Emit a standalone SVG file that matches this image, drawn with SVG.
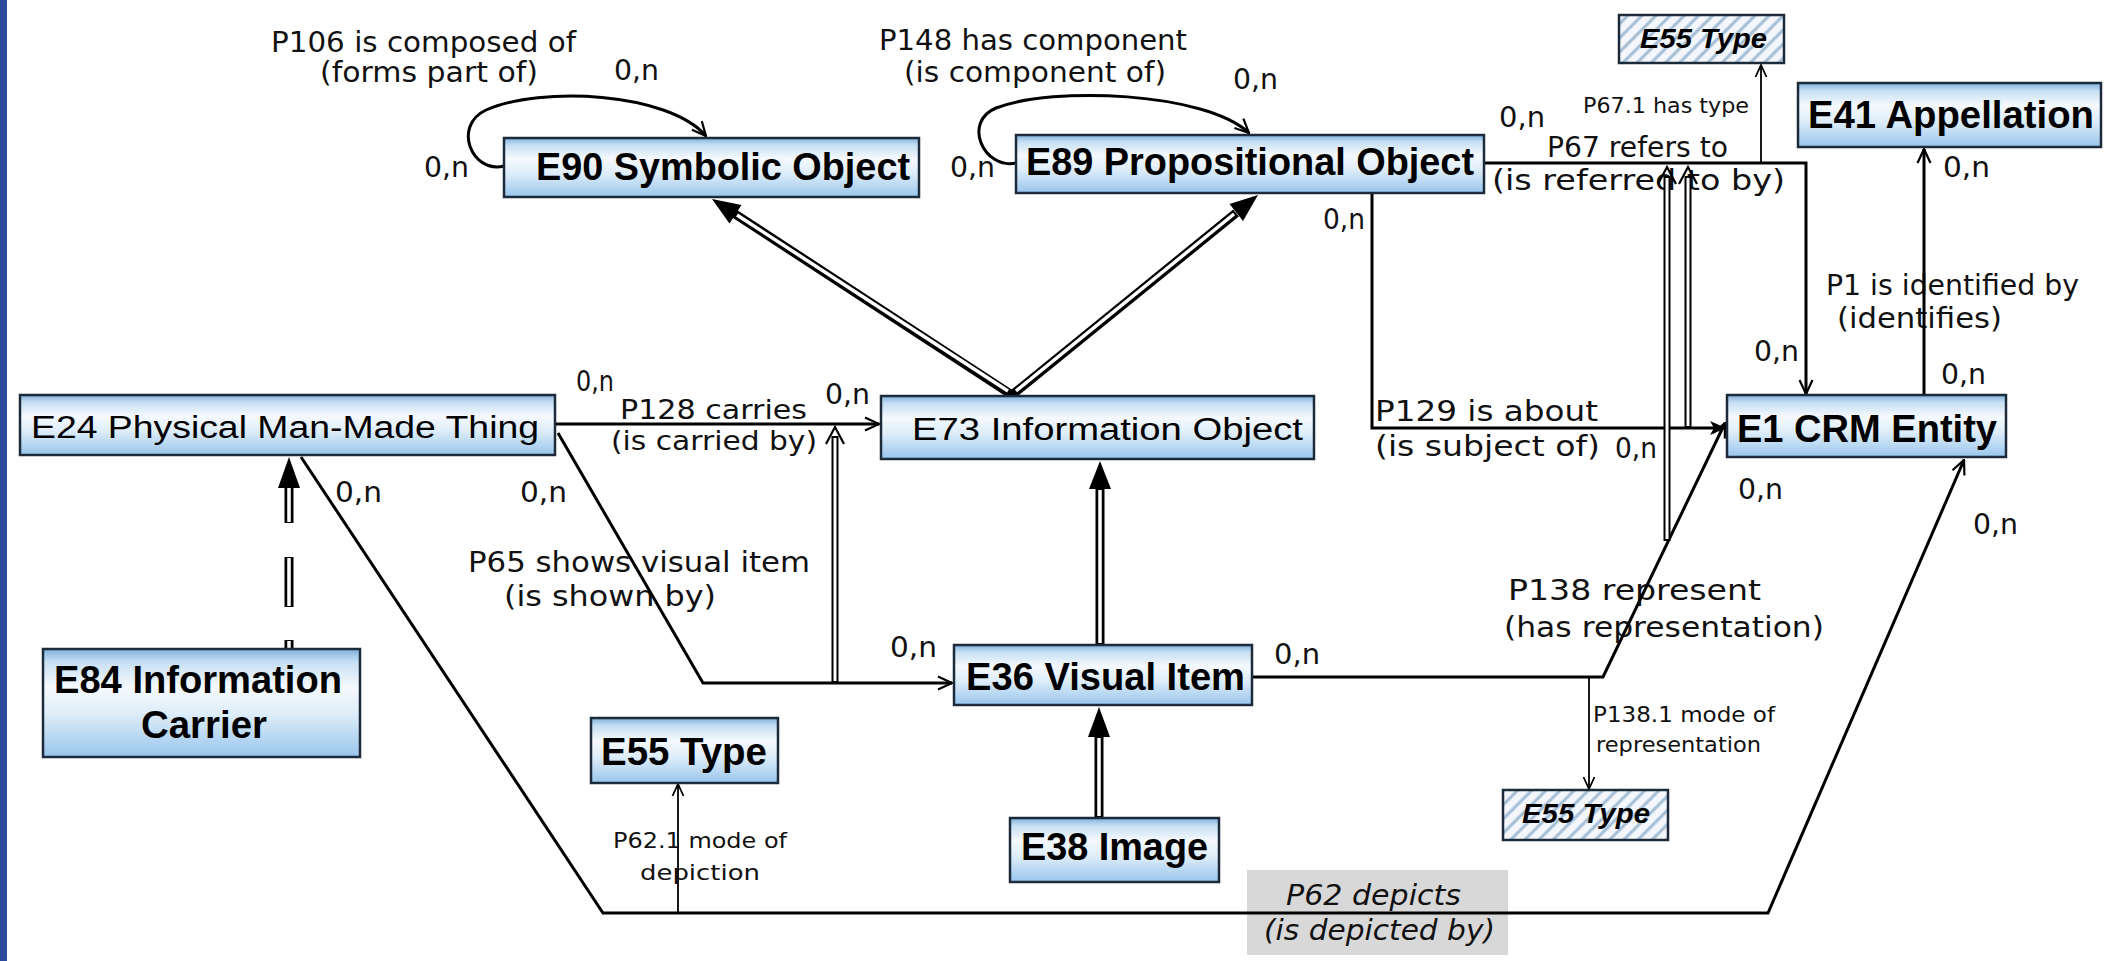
<svg xmlns="http://www.w3.org/2000/svg" width="2107" height="961" viewBox="0 0 2107 961">
<defs>
<linearGradient id="nodeFill" x1="0" y1="0" x2="0" y2="1">
<stop offset="0" stop-color="#7fb0dd"/>
<stop offset="0.12" stop-color="#c6dff3"/>
<stop offset="0.35" stop-color="#f5f9fd"/>
<stop offset="0.6" stop-color="#deedf9"/>
<stop offset="1" stop-color="#98c5ec"/>
</linearGradient>
<pattern id="hatch" width="10" height="10" patternUnits="userSpaceOnUse" patternTransform="rotate(45)">
<rect width="10" height="10" fill="#f3f7fb"/>
<line x1="2" y1="0" x2="2" y2="10" stroke="#a3bdd6" stroke-width="3"/>
</pattern>
<marker id="open" viewBox="0 0 16 16" refX="15" refY="8" markerWidth="16" markerHeight="16" markerUnits="userSpaceOnUse" orient="auto">
<path d="M1,1.5 L15,8 L1,14.5" fill="none" stroke="#000" stroke-width="2.2"/>
</marker>
<marker id="openS" viewBox="0 0 14 14" refX="13" refY="7" markerWidth="14" markerHeight="14" markerUnits="userSpaceOnUse" orient="auto">
<path d="M1,1.5 L13,7 L1,12.5" fill="none" stroke="#000" stroke-width="1.8"/>
</marker>
<marker id="solid" viewBox="0 0 16 16" refX="15" refY="8" markerWidth="16" markerHeight="16" markerUnits="userSpaceOnUse" orient="auto">
<path d="M0,1 L16,8 L0,15 L4,8 Z" fill="#000"/>
</marker>
<style>
.box{fill:url(#nodeFill);stroke:#1c2a3a;stroke-width:2.5}
.hbox{fill:url(#hatch);stroke:#1c2a3a;stroke-width:2.5}
.nb{font-family:"Liberation Sans",Arial,sans-serif;font-weight:bold;font-size:38px;fill:#000}
.nr{font-family:"Liberation Sans",Arial,sans-serif;font-size:31px;fill:#000}
.ni{font-family:"Liberation Sans",Arial,sans-serif;font-weight:bold;font-style:italic;font-size:28px;fill:#000}
.lbl{font-family:"DejaVu Sans","Liberation Sans",sans-serif;font-size:28px;fill:#111}
.lb2{font-family:"DejaVu Sans","Liberation Sans",sans-serif;font-size:26px;fill:#111}
.sm{font-family:"DejaVu Sans","Liberation Sans",sans-serif;font-size:22px;fill:#111}
.it{font-family:"DejaVu Sans","Liberation Sans",sans-serif;font-size:28px;font-style:italic;fill:#111}
.ln{fill:none;stroke:#000;stroke-width:3}
.thin{fill:none;stroke:#000;stroke-width:1.8}
.dblk{fill:none;stroke:#000;stroke-width:9}
.dwht{fill:none;stroke:#fff;stroke-width:3.5}
.sblk{fill:none;stroke:#000;stroke-width:7}
.swht{fill:none;stroke:#fff;stroke-width:3}
</style>
</defs>
<rect x="0" y="0" width="2107" height="961" fill="#fff"/>
<rect x="0" y="0" width="7" height="961" fill="#2d4a9c"/>

<g id="labels">
<rect x="1247" y="870" width="261" height="85" fill="#d8d8d8"/>
<text class="lbl" x="271" y="52" textLength="305" lengthAdjust="spacingAndGlyphs">P106 is composed of</text>
<text class="lbl" x="320" y="82" textLength="218" lengthAdjust="spacingAndGlyphs">(forms part of)</text>
<text class="lbl" x="879" y="50" textLength="308" lengthAdjust="spacingAndGlyphs">P148 has component</text>
<text class="lbl" x="904" y="82" textLength="262" lengthAdjust="spacingAndGlyphs">(is component of)</text>
<text class="lbl" x="1547" y="157" textLength="181" lengthAdjust="spacingAndGlyphs">P67 refers to</text>
<text class="lbl" x="1492" y="190" textLength="293" lengthAdjust="spacingAndGlyphs">(is referred to by)</text>
<text class="sm" x="1583" y="113" textLength="166" lengthAdjust="spacingAndGlyphs">P67.1 has type</text>
<text class="lbl" x="1826" y="295" textLength="253" lengthAdjust="spacingAndGlyphs">P1 is identified by</text>
<text class="lbl" x="1837" y="328" textLength="165" lengthAdjust="spacingAndGlyphs">(identifies)</text>
<text class="lb2" x="620" y="419" textLength="187" lengthAdjust="spacingAndGlyphs">P128 carries</text>
<text class="lb2" x="611" y="450" textLength="206" lengthAdjust="spacingAndGlyphs">(is carried by)</text>
<text class="lbl" x="1375" y="421" textLength="223" lengthAdjust="spacingAndGlyphs">P129 is about</text>
<text class="lbl" x="1375" y="456" textLength="225" lengthAdjust="spacingAndGlyphs">(is subject of)</text>
<text class="lbl" x="468" y="572" textLength="342" lengthAdjust="spacingAndGlyphs">P65 shows visual item</text>
<text class="lbl" x="504" y="606" textLength="212" lengthAdjust="spacingAndGlyphs">(is shown by)</text>
<text class="lbl" x="1508" y="600" textLength="253" lengthAdjust="spacingAndGlyphs">P138 represent</text>
<text class="lbl" x="1504" y="637" textLength="320" lengthAdjust="spacingAndGlyphs">(has representation)</text>
<text class="sm" x="1593" y="722" textLength="182" lengthAdjust="spacingAndGlyphs">P138.1 mode of</text>
<text class="sm" x="1596" y="752" textLength="165" lengthAdjust="spacingAndGlyphs">representation</text>
<text class="sm" x="613" y="848" textLength="174" lengthAdjust="spacingAndGlyphs">P62.1 mode of</text>
<text class="sm" x="640" y="880" textLength="120" lengthAdjust="spacingAndGlyphs">depiction</text>
<text class="it" x="1286" y="905" textLength="175" lengthAdjust="spacingAndGlyphs">P62 depicts</text>
<text class="it" x="1264" y="940" textLength="231" lengthAdjust="spacingAndGlyphs">(is depicted by)</text>
<text class="lbl" x="614" y="80" textLength="45" lengthAdjust="spacingAndGlyphs">0,n</text>
<text class="lbl" x="424" y="177" textLength="45" lengthAdjust="spacingAndGlyphs">0,n</text>
<text class="lbl" x="1233" y="89" textLength="45" lengthAdjust="spacingAndGlyphs">0,n</text>
<text class="lbl" x="950" y="177" textLength="45" lengthAdjust="spacingAndGlyphs">0,n</text>
<text class="lbl" x="1323" y="229" textLength="42" lengthAdjust="spacingAndGlyphs">0,n</text>
<text class="lbl" x="1499" y="127" textLength="46" lengthAdjust="spacingAndGlyphs">0,n</text>
<text class="lbl" x="1943" y="177" textLength="47" lengthAdjust="spacingAndGlyphs">0,n</text>
<text class="lbl" x="1754" y="361" textLength="45" lengthAdjust="spacingAndGlyphs">0,n</text>
<text class="lbl" x="1941" y="384" textLength="45" lengthAdjust="spacingAndGlyphs">0,n</text>
<text class="lbl" x="576" y="391" textLength="38" lengthAdjust="spacingAndGlyphs">0,n</text>
<text class="lbl" x="825" y="404" textLength="45" lengthAdjust="spacingAndGlyphs">0,n</text>
<text class="lbl" x="1615" y="458" textLength="42" lengthAdjust="spacingAndGlyphs">0,n</text>
<text class="lbl" x="335" y="502" textLength="47" lengthAdjust="spacingAndGlyphs">0,n</text>
<text class="lbl" x="520" y="502" textLength="47" lengthAdjust="spacingAndGlyphs">0,n</text>
<text class="lbl" x="1738" y="499" textLength="45" lengthAdjust="spacingAndGlyphs">0,n</text>
<text class="lbl" x="1973" y="534" textLength="45" lengthAdjust="spacingAndGlyphs">0,n</text>
<text class="lbl" x="890" y="657" textLength="47" lengthAdjust="spacingAndGlyphs">0,n</text>
<text class="lbl" x="1274" y="664" textLength="46" lengthAdjust="spacingAndGlyphs">0,n</text>
</g>

<g id="connectors">
<path class="ln" d="M504,166 C472,174 452,126 486,110 C540,86 668,92 706,136" marker-end="url(#open)"/>
<path class="ln" d="M1016,163 C984,170 962,122 996,108 C1052,86 1206,92 1249,133" marker-end="url(#open)"/>
<path class="ln" d="M555,424 L879,424" marker-end="url(#open)"/>
<path class="ln" d="M558,433 L703,683 L952,683" marker-end="url(#open)"/>
<path class="ln" d="M1372,193 L1372,428 L1725,428" marker-end="url(#solid)"/>
<path class="ln" d="M1484,163 L1806,163 L1806,394" marker-end="url(#open)"/>
<path class="thin" d="M1761,163 L1761,65" marker-end="url(#openS)"/>
<path class="ln" d="M1924,396 L1924,149" marker-end="url(#open)"/>
<path class="ln" d="M1252,677 L1603,677 L1725,423" marker-end="url(#open)"/>
<path class="thin" d="M1589,677 L1589,789" marker-end="url(#openS)"/>
<path class="ln" d="M301,457 L603,913 L1768,913 L1964,460" marker-end="url(#open)"/>
<path class="thin" d="M678,913 L678,784" marker-end="url(#openS)"/>
<path class="sblk" d="M835,683 L835,436"/>
<path class="swht" d="M835,681 L835,438"/>
<path d="M826,444 L835,427 L844,444" fill="none" stroke="#000" stroke-width="2.2"/>
<path class="sblk" d="M1667,541 L1667,176"/>
<path class="swht" d="M1667,539 L1667,178"/>
<path d="M1658,184 L1667,167 L1676,184" fill="none" stroke="#000" stroke-width="2.2"/>
<path class="sblk" d="M1688,428 L1688,176"/>
<path class="swht" d="M1688,426 L1688,178"/>
<path d="M1679,184 L1688,167 L1697,184" fill="none" stroke="#000" stroke-width="2.2"/>
<path class="dblk" d="M1012,395 L735,214"/>
<path class="dwht" d="M1008,391 L737,215"/>
<polygon points="712,199 741.5,205 729.5,223.5" fill="#000"/>
<path class="dblk" d="M1012,395 L1236,213"/>
<path class="dwht" d="M1016,391 L1234,214"/>
<polygon points="1258,195 1243,221 1229.5,204" fill="#000"/>
<path class="dblk" d="M1100,645 L1100,488"/>
<path class="dwht" d="M1100,643 L1100,490"/>
<polygon points="1100,461 1111,489 1089,489" fill="#000"/>
<path class="dblk" d="M1099,818 L1099,736"/>
<path class="dwht" d="M1099,816 L1099,738"/>
<polygon points="1099,707 1110,737 1088,737" fill="#000"/>
<path class="dblk" d="M289,649 L289,640 M289,607 L289,557 M289,523 L289,486"/>
<path class="dwht" d="M289,648 L289,641 M289,606 L289,558 M289,522 L289,488"/>
<polygon points="289,457 300,488 278,488" fill="#000"/>
</g>

<g id="E90">
<rect class="box" x="504" y="138" width="415" height="59"/>
<text class="nb" x="536" y="180" textLength="374" lengthAdjust="spacingAndGlyphs">E90 Symbolic Object</text>
</g>
<g id="E89">
<rect class="box" x="1016" y="135" width="468" height="58"/>
<text class="nb" x="1026" y="175" textLength="448" lengthAdjust="spacingAndGlyphs">E89 Propositional Object</text>
</g>
<g id="E55a">
<rect class="hbox" x="1619" y="15" width="165" height="48"/>
<text class="ni" x="1640" y="48" textLength="127" lengthAdjust="spacingAndGlyphs">E55 Type</text>
</g>
<g id="E41">
<rect class="box" x="1798" y="83" width="303" height="64"/>
<text class="nb" x="1808" y="128" textLength="286" lengthAdjust="spacingAndGlyphs">E41 Appellation</text>
</g>
<g id="E24">
<rect class="box" x="20" y="395" width="535" height="60"/>
<text class="nr" x="31" y="438" textLength="508" lengthAdjust="spacingAndGlyphs">E24 Physical Man-Made Thing</text>
</g>
<g id="E73">
<rect class="box" x="881" y="396" width="433" height="63"/>
<text class="nr" x="912" y="440" textLength="391" lengthAdjust="spacingAndGlyphs">E73 Information Object</text>
</g>
<g id="E1">
<rect class="box" x="1727" y="395" width="279" height="62"/>
<text class="nb" x="1737" y="442" textLength="260" lengthAdjust="spacingAndGlyphs">E1 CRM Entity</text>
</g>
<g id="E84">
<rect class="box" x="43" y="649" width="317" height="108"/>
<text class="nb" x="54" y="693" textLength="288" lengthAdjust="spacingAndGlyphs">E84 Information</text>
<text class="nb" x="141" y="738" textLength="126" lengthAdjust="spacingAndGlyphs">Carrier</text>
</g>
<g id="E36">
<rect class="box" x="954" y="645" width="298" height="60"/>
<text class="nb" x="966" y="690" textLength="279" lengthAdjust="spacingAndGlyphs">E36 Visual Item</text>
</g>
<g id="E55b">
<rect class="box" x="591" y="718" width="187" height="65"/>
<text class="nb" x="601" y="765" textLength="166" lengthAdjust="spacingAndGlyphs">E55 Type</text>
</g>
<g id="E38">
<rect class="box" x="1010" y="818" width="209" height="64"/>
<text class="nb" x="1021" y="860" textLength="187" lengthAdjust="spacingAndGlyphs">E38 Image</text>
</g>
<g id="E55c">
<rect class="hbox" x="1503" y="790" width="165" height="50"/>
<text class="ni" x="1522" y="823" textLength="128" lengthAdjust="spacingAndGlyphs">E55 Type</text>
</g>
</svg>
